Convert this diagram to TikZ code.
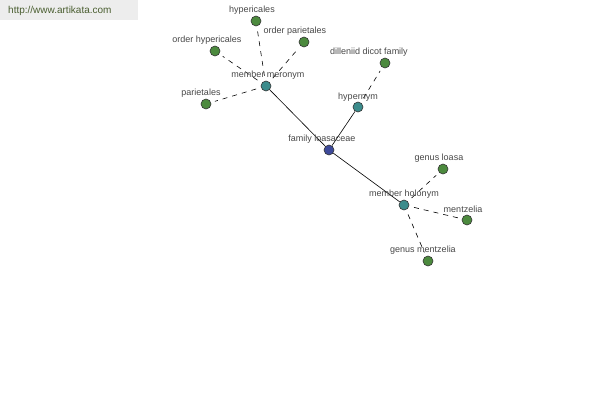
\documentclass[tikz,border=0pt]{standalone}
\usepackage{fontspec}
\setmainfont{Liberation Sans}
\begin{document}
\begin{tikzpicture}[x=1pt,y=-1pt,
  every node/.style={inner sep=0pt},
  dot/.style={circle,draw=black!80,line width=0.6pt,minimum size=10pt},
  leaf/.style={dot,fill=leafc},
  hub/.style={dot,fill=hubc},
  root/.style={dot,fill=rootc},
  lab/.style={font=\fontsize{9}{10}\selectfont,text=black!72},
  solidedge/.style={draw=black,line width=0.6pt},
  dashedge/.style={draw=black,line width=0.6pt,dash pattern=on 5pt off 5pt,shorten >=4pt,shorten <=5pt}]
\definecolor{leafc}{HTML}{4C8A3E}
\definecolor{hubc}{HTML}{3C8C8C}
\definecolor{rootc}{HTML}{3E4A9A}
\definecolor{urlc}{HTML}{4A5E30}
\useasboundingbox (0,0) rectangle (600,400);
\fill[fill=black!7] (0,0) rectangle (138,20);
\node[font=\fontsize{10}{12}\selectfont,text=urlc,anchor=west] (url) at (8,11) {http://www.artikata.com};
% nodes
\node[root] (fl) at (329,150) {};
\node[hub] (mm) at (266,86) {};
\node[hub] (hy) at (358,107) {};
\node[hub] (mh) at (404,205) {};
\node[leaf] (hc) at (256,21) {};
\node[leaf] (op) at (304,42) {};
\node[leaf] (oh) at (215,51) {};
\node[leaf] (pa) at (206,104) {};
\node[leaf] (dd) at (385,63) {};
\node[leaf] (gl) at (443,169) {};
\node[leaf] (me) at (467,220) {};
\node[leaf] (gm) at (428,261) {};
% edges
\path[solidedge] (fl) -- (mm);
\path[solidedge] (fl) -- (hy);
\path[solidedge] (fl) -- (mh);
\path[dashedge] (mm) -- (hc);
\path[dashedge] (mm) -- (op);
\path[dashedge] (mm) -- (oh);
\path[dashedge] (mm) -- (pa);
\path[dashedge] (hy) -- (dd);
\path[dashedge] (mh) -- (gl);
\path[dashedge] (mh) -- (me);
\path[dashedge] (mh) -- (gm);
% labels
\node[lab] (lfl) at (322,139) {family loasaceae};
\node[lab] (lmm) at (268,75) {member meronym};
\node[lab] (lhy) at (358,97) {hypernym};
\node[lab] (lmh) at (404,194) {member holonym};
\node[lab] (lhc) at (252,10) {hypericales};
\node[lab] (lop) at (295,31) {order parietales};
\node[lab] (loh) at (207,40) {order hypericales};
\node[lab] (lpa) at (201,93) {parietales};
\node[lab] (ldd) at (369,52) {dilleniid dicot family};
\node[lab] (lgl) at (439,158) {genus loasa};
\node[lab] (lme) at (463,209) {mentzelia};
\node[lab] (lgm) at (423,250) {genus mentzelia};
\end{tikzpicture}
\end{document}
